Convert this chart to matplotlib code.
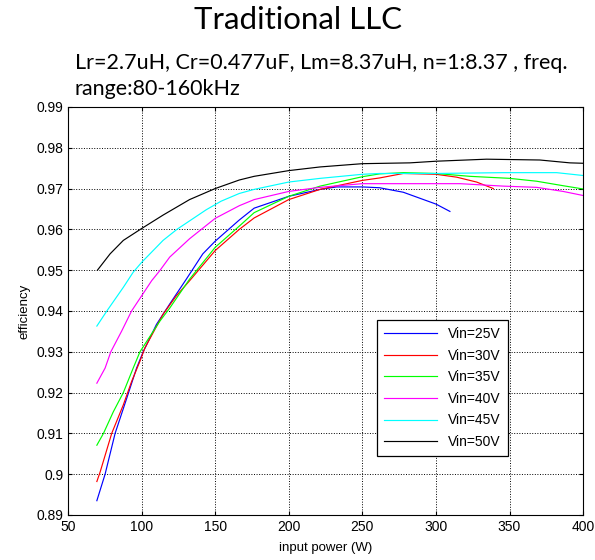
import numpy as np
import matplotlib
matplotlib.use("Agg")
from matplotlib import pyplot as plt

# series: input power (W) -> efficiency
x25 = [69.6, 75.2, 82, 89.9, 96.6, 101.1, 110.1, 119.1, 130.4, 141.6, 150, 166.4, 176.5,
       200, 221.3, 232.5, 250, 261.7, 277.8, 300, 309.5]
y25 = [0.8935, 0.900, 0.910, 0.9186, 0.926, 0.930, 0.9367, 0.9417, 0.9478, 0.954, 0.9571,
       0.9623, 0.9652, 0.9681, 0.9698, 0.9704, 0.9704, 0.9702, 0.9691, 0.9662, 0.9644]

x30 = [69.6, 71.8, 79.7, 87.6, 93.2, 98.9, 102.2, 114.6, 123.6, 132.6, 150, 166.4, 176.5,
       200, 221.3, 250, 261.7, 277.8, 300, 314, 327.6, 339]
y30 = [0.8982, 0.9005, 0.910, 0.917, 0.9227, 0.9277, 0.9309, 0.9392, 0.9437, 0.9474, 0.9548,
       0.960, 0.9628, 0.9673, 0.9698, 0.972, 0.9726, 0.9737, 0.9735, 0.9728, 0.9716, 0.970]

x35 = [69.6, 74.1, 80.8, 87.6, 94.3, 98.9, 112.4, 119.1, 132.6, 150, 166.4, 176.5, 200,
       221.3, 250, 261.7, 277.8, 300, 323, 350.2, 368.4, 386.4, 400]
y35 = [0.9071, 0.910, 0.9153, 0.920, 0.926, 0.930, 0.9375, 0.9407, 0.9478, 0.9556, 0.9608,
       0.9641, 0.9681, 0.9706, 0.9729, 0.9736, 0.9739, 0.9737, 0.973, 0.9725, 0.9718,
       0.9707, 0.9699]

x40 = [69.6, 75.2, 79.1, 86.5, 93.2, 100, 106.8, 112.4, 119.1, 132.6, 150, 166.4, 176.5,
       200, 221.3, 250, 300, 316.3, 345.7, 368.4, 386.4, 400]
y40 = [0.9223, 0.926, 0.930, 0.9351, 0.940, 0.9437, 0.9474, 0.9499, 0.9532, 0.9577, 0.9627,
       0.9658, 0.9673, 0.9693, 0.9703, 0.9712, 0.9712, 0.9712, 0.9706, 0.9703, 0.9693, 0.9683]

x45 = [69.6, 76.4, 87.6, 94.3, 100, 114.6, 124, 143.9, 154, 166.4, 176.5, 200, 221.3, 250,
       261.7, 300, 345.7, 382, 400]
y45 = [0.9363, 0.940, 0.9458, 0.9495, 0.9519, 0.9573, 0.960, 0.9648, 0.9669, 0.9688, 0.9698,
       0.9716, 0.9725, 0.9735, 0.9737, 0.9737, 0.9739, 0.9739, 0.9732]

x50 = [70, 78.6, 87.6, 100, 114.6, 132.6, 150, 166.4, 176.5, 200, 221.3, 250, 282.3, 300,
       334.4, 370.6, 391, 400]
y50 = [0.950, 0.954, 0.9573, 0.9602, 0.9635, 0.9673, 0.970, 0.9721, 0.973, 0.9744, 0.9753,
       0.9761, 0.9763, 0.9767, 0.9772, 0.977, 0.9763, 0.9762]

labels = ["Vin=25V", "Vin=30V", "Vin=35V", "Vin=40V", "Vin=45V", "Vin=50V"]
colors = ["#0000ff", "#ff0000", "#00ff00", "#ff00ff", "#00ffff", "#000000"]
series = [(x25, y25), (x30, y30), (x35, y35), (x40, y40), (x45, y45), (x50, y50)]

xticks = [50, 100, 150, 200, 250, 300, 350, 400]
yticks = [0.89, 0.9, 0.91, 0.92, 0.93, 0.94, 0.95, 0.96, 0.97, 0.98, 0.99]

plt.rcParams['font.family'] = ['Liberation Sans', 'DejaVu Sans']

fig = plt.figure(figsize=(5.95, 5.6), dpi=100)
ax = fig.add_axes([0.1143, 0.0804, 0.8657, 0.7286])

for (xs, ys), lab, c in zip(series, labels, colors):
    ax.plot(xs, ys, color=c, lw=0.85, label=lab)

ax.set_xlim(50, 400)
ax.set_ylim(0.89, 0.99)
ax.set_xticks(xticks)
ax.set_yticks(yticks)
ax.set_xticklabels([str(v) for v in xticks])
ax.set_yticklabels(["%g" % v for v in yticks])
ax.tick_params(direction='in', top=True, right=True, labelsize=10, length=3)
ax.grid(True, color='black', linestyle=':', linewidth=0.7)
for s in ax.spines.values():
    s.set_linewidth(0.8)

ax.set_xlabel("input power (W)", fontsize=9.5, labelpad=6)
ax.set_ylabel("efficiency", fontsize=9.5, labelpad=4)

leg = ax.legend(loc='upper left', bbox_to_anchor=(0.6, 0.478), fontsize=10,
                frameon=True, fancybox=False, edgecolor='black', framealpha=1,
                handlelength=3.8, borderpad=0.5, labelspacing=0.55, borderaxespad=0)
leg.get_frame().set_linewidth(0.9)

fig.text(0.5, 0.965, "Traditional LLC", ha='center', va='center', fontsize=22.5,
         family=['Lato', 'DejaVu Sans'])
fig.text(0.126, 0.887, "Lr=2.7uH, Cr=0.477uF, Lm=8.37uH, n=1:8.37 , freq.",
         ha='left', va='center', fontsize=15.5, family=['Lato', 'DejaVu Sans'])
fig.text(0.126, 0.841, "range:80-160kHz",
         ha='left', va='center', fontsize=15.5, family=['Lato', 'DejaVu Sans'])

fig.savefig("out.png", dpi=100)
